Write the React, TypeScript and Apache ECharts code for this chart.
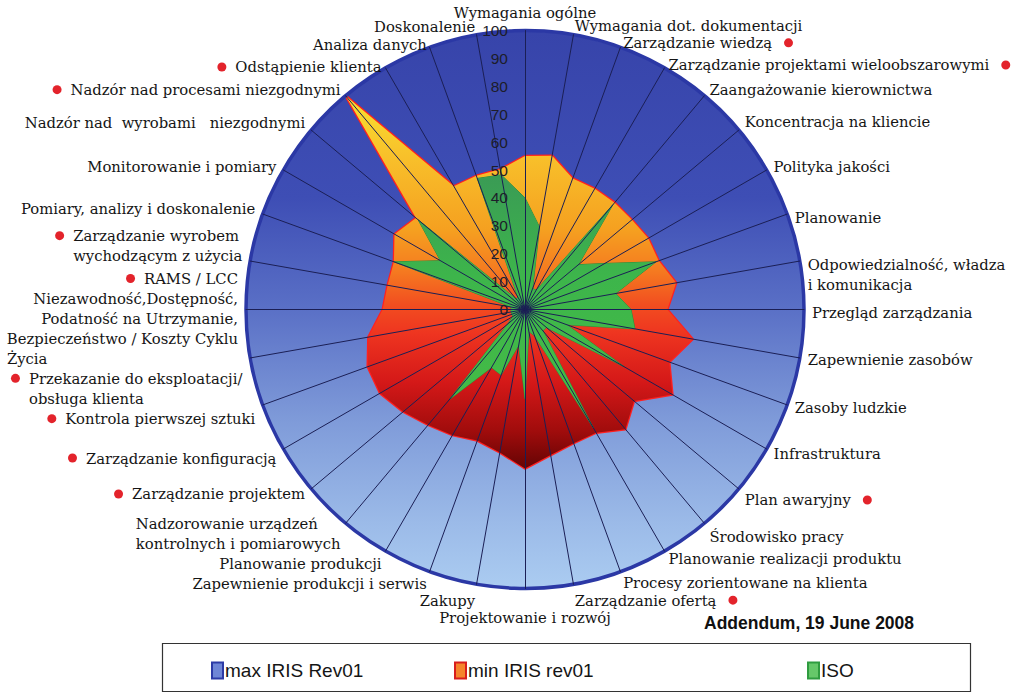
import React, { useEffect, useRef } from 'react';
import * as echarts from 'echarts';

// Categories in clockwise order, starting at the top (10° apart)
const categories: string[] = [
  'Wymagania ogólne',
  'Wymagania dot. dokumentacji',
  'Zarządzanie wiedzą',
  'Zarządzanie projektami wieloobszarowymi',
  'Zaangażowanie kierownictwa',
  'Koncentracja na kliencie',
  'Polityka jakości',
  'Planowanie',
  'Odpowiedzialność, władza\ni komunikacja',
  'Przegląd zarządzania',
  'Zapewnienie zasobów',
  'Zasoby ludzkie',
  'Infrastruktura',
  'Plan awaryjny',
  'Środowisko pracy',
  'Planowanie realizacji produktu',
  'Procesy zorientowane na klienta',
  'Zarządzanie ofertą',
  'Projektowanie i rozwój',
  'Zakupy',
  'Zapewnienie produkcji i serwis',
  'Planowanie produkcji',
  'Nadzorowanie urządzeń\nkontrolnych i pomiarowych',
  'Zarządzanie projektem',
  'Zarządzanie konfiguracją',
  'Kontrola pierwszej sztuki',
  'Przekazanie do eksploatacji/\nobsługa klienta',
  'RAMS / LCC\nNiezawodność,Dostępność,\nPodatność na Utrzymanie,\nBezpieczeństwo / Koszty Cyklu\nŻycia',
  'Zarządzanie wyrobem\nwychodzącym z użycia',
  'Pomiary, analizy i doskonalenie',
  'Monitorowanie i pomiary',
  'Nadzór nad  wyrobami   niezgodnymi',
  'Nadzór nad procesami niezgodnymi',
  'Odstąpienie klienta',
  'Analiza danych',
  'Doskonalenie',
];

// Requirements marked with a red dot (IRIS-specific)
const irisOnly: string[] = [
  'Zarządzanie wiedzą',
  'Zarządzanie projektami wieloobszarowymi',
  'Plan awaryjny',
  'Zarządzanie ofertą',
  'Zarządzanie projektem',
  'Zarządzanie konfiguracją',
  'Kontrola pierwszej sztuki',
  'Przekazanie do eksploatacji/\nobsługa klienta',
  'RAMS / LCC\nNiezawodność,Dostępność,\nPodatność na Utrzymanie,\nBezpieczeństwo / Koszty Cyklu\nŻycia',
  'Zarządzanie wyrobem\nwychodzącym z użycia',
  'Nadzór nad procesami niezgodnymi',
  'Odstąpienie klienta',
];

const seriesNames: string[] = ['max IRIS Rev01', 'min IRIS rev01', 'ISO'];

const maxIris: number[] = [
  100, 100, 100, 100, 100, 100, 100, 100, 100, 100, 100, 100,
  100, 100, 100, 100, 100, 100, 100, 100, 100, 100, 100, 100,
  100, 100, 100, 100, 100, 100, 100, 100, 100, 100, 100, 100,
];

const minIris: number[] = [
  55, 56, 50, 50, 50, 50, 51, 51, 55, 51, 61, 55,
  61, 51, 56, 51, 51, 53, 57, 52, 50, 52, 54, 57,
  60, 60, 57, 51, 50, 50, 54, 51, 100, 51, 51, 51,
];

const iso: number[] = [
  40, 30, 8, 8, 49, 25, 33, 50, 33, 38, 40, 16,
  41, 10, 10, 49, 10, 8, 32, 13, 25, 24, 42, 8,
  5, 5, 5, 5, 5, 50, 35, 50, 5, 5, 50, 49,
];

const radialTicks: number[] = [0, 10, 20, 30, 40, 50, 60, 70, 80, 90, 100];

const footnote = 'Addendum, 19 June 2008';

// Layout only: vertical nudges (px, + = down) of some category labels, by category index
const labelNudge: Record<number, number> = {
  1: -1, 2: 3, 3: 4, 5: -4, 7: 6, 8: 15, 9: 3, 13: 6, 14: 7, 16: 3, 17: 8, 18: 11,
  19: 8, 20: 4, 21: 5, 22: 4, 24: 5, 25: 11, 26: 29, 27: 9, 28: -14, 29: -3,
  31: -3, 33: 6, 34: 5,
};

// ECharts lays radar indicators out counter-clockwise; reorder so the chart reads clockwise.
const n = categories.length;
const order: number[] = categories.map((_, j) => (n - j) % n);
const reorder = (arr: number[]) => order.map((k) => arr[k]);

const lin = (stops: [number, string][]) => ({
  type: 'linear',
  x: 0,
  y: 0,
  x2: 0,
  y2: 1,
  colorStops: stops.map(([offset, color]) => ({ offset, color })),
});

const gapStyles: Record<string, any> = {};

function formatName(name: string): string {
  const k = categories.indexOf(name);
  const angle = (k * 360) / n;
  const flagged = irisOnly.indexOf(name) >= 0;
  const lines = name.split('\n');
  const left = angle > 180 && angle < 360;
  const right = angle > 0 && angle < 180;
  let out: string[];
  if (right) {
    out = lines.map((ln, i) => (i === 0 && flagged ? `${ln}{sp2|}{dot|}` : ln));
  } else if (left) {
    if (lines.length === 1) {
      out = [flagged ? `{dot|}{sp|}${lines[0]}` : lines[0]];
    } else if (lines.length > 2) {
      out = lines.map((ln, i) => {
        if (i === 0 && flagged) return `{dot|}{sp|}${ln}`;
        if (i === lines.length - 1) return `{l|${ln}}`;
        return ln;
      });
    } else {
      out = lines.map((ln, i) => {
        if (i === 0 && flagged) return `{dotL|}{spL|}{l|${ln}}`;
        if (flagged) return `{ind|${ln}}`;
        return `{l|${ln}}`;
      });
    }
  } else {
    out = lines.slice();
  }
  const dy = labelNudge[k] || 0;
  if (dy !== 0) {
    const factor = angle === 0 || angle === 180 ? 1 : 2;
    const h = Math.abs(dy) * factor;
    const key = `g${h}`;
    if (dy > 0) out.unshift(`{${key}|}`);
    else out.push(`{${key}|}`);
  }
  return out.join('\n');
}

Object.keys(labelNudge).forEach((key) => {
  const k = Number(key);
  const angle = (k * 360) / n;
  const factor = angle === 0 || angle === 180 ? 1 : 2;
  const h = Math.abs(labelNudge[k]) * factor;
  gapStyles[`g${h}`] = { height: h, lineHeight: h, width: 1 };
});

export default function App() {
  const ref = useRef<HTMLDivElement>(null);

  useEffect(() => {
    if (!ref.current) return;
    const chart = echarts.init(ref.current, undefined, { renderer: 'svg' });

    const indicators = order.map((k, j) => {
      const ind: any = { name: categories[k], min: radialTicks[0], max: radialTicks[radialTicks.length - 1] };
      if (j === 0) ind.axisLabel = { show: true };
      return ind;
    });

    const dotStyle = { width: 9, height: 9, borderRadius: 4.5, backgroundColor: '#e3232b' };
    const ringColors = radialTicks.map((_, i) => (i === radialTicks.length - 1 ? '#2b38a5' : 'rgba(0,0,0,0)'));

    const option: any = {
      animation: false,
      backgroundColor: '#ffffff',
      title: {
        text: footnote,
        left: 699,
        top: 609,
        textStyle: {
          fontFamily: 'Liberation Sans',
          fontWeight: 'bold',
          fontSize: 17.5,
          color: '#111',
        },
      },
      radar: {
        center: [525, 309.5],
        radius: 279,
        startAngle: 90,
        splitNumber: radialTicks.length - 1,
        shape: 'circle',
        z: 10,
        indicator: indicators,
        nameGap: 8,
        axisName: {
          color: '#151515',
          fontFamily: 'DejaVu Serif',
          fontSize: 14.8,
          lineHeight: 20,
          formatter: (name: string) => formatName(name),
          rich: {
            dot: { ...dotStyle },
            dotL: { ...dotStyle, align: 'left' },
            sp: { width: 9 },
            spL: { width: 9, align: 'left' },
            sp2: { width: 12 },
            l: { align: 'left' },
            ind: { align: 'left', padding: [0, 0, 0, 18] },
            ...gapStyles,
          },
        },
        axisLine: { show: true, lineStyle: { color: '#1b1f55', width: 1 } },
        axisTick: { show: false },
        splitLine: { show: true, lineStyle: { color: ringColors, width: 3.5 } },
        splitArea: { show: false },
        axisLabel: {
          show: false,
          color: '#1d1d2a',
          fontFamily: 'Liberation Sans',
          fontSize: 15.5,
          margin: 17,
          showMinLabel: true,
          showMaxLabel: true,
        },
      },
      legend: [
        {
          data: [{ name: seriesNames[0], itemStyle: { color: '#6f86d6', borderColor: '#2d3ba6', borderWidth: 2 } }],
          left: 206,
          top: 656,
        },
        {
          data: [{ name: seriesNames[1], itemStyle: { color: '#f5842c', borderColor: '#d81d1d', borderWidth: 2 } }],
          left: 449,
          top: 656,
        },
        {
          data: [{ name: seriesNames[2], itemStyle: { color: '#66c86a', borderColor: '#2f9c40', borderWidth: 2 } }],
          left: 802,
          top: 656,
        },
      ].map((l) => ({
        ...l,
        icon: 'rect',
        itemWidth: 11,
        itemHeight: 16,
        itemGap: 4,
        selectedMode: false,
        textStyle: { fontFamily: 'Liberation Sans', fontSize: 19, color: '#151515', padding: [0, 0, 0, -3] },
      })),
      graphic: [
        {
          type: 'rect',
          left: 160,
          top: 641,
          shape: { width: 808, height: 48 },
          style: { fill: 'none', stroke: '#333', lineWidth: 1.2 },
          z: 0,
        },
      ],
      series: [
        {
          type: 'radar',
          silent: true,
          symbol: 'none',
          z: 2,
          data: [
            {
              name: seriesNames[0],
              value: reorder(maxIris),
              lineStyle: { color: '#2b38a5', width: 1 },
              itemStyle: { color: '#3a48ae' },
              areaStyle: {
                opacity: 1,
                color: lin([
                  [0, '#3744aa'],
                  [0.3, '#3e4eb5'],
                  [0.5, '#5a70c6'],
                  [0.7, '#7f9bd9'],
                  [0.88, '#9bbae8'],
                  [1, '#abccf1'],
                ]),
              },
            },
            {
              name: seriesNames[1],
              value: reorder(minIris),
              lineStyle: { color: '#ff2020', width: 2.5 },
              itemStyle: { color: '#f04020' },
              areaStyle: {
                opacity: 1,
                color: lin([
                  [0, '#f8e030'],
                  [0.17, '#f8bf2a'],
                  [0.36, '#f5a020'],
                  [0.47, '#f57a20'],
                  [0.56, '#f24e20'],
                  [0.64, '#ee3420'],
                  [0.77, '#d41818'],
                  [0.9, '#a00c0c'],
                  [1, '#650404'],
                ]),
              },
            },
            {
              name: seriesNames[2],
              value: reorder(iso),
              lineStyle: { color: '#2c8a3c', width: 1 },
              itemStyle: { color: '#3db54b' },
              areaStyle: {
                opacity: 1,
                color: lin([
                  [0, '#3a9b55'],
                  [0.4, '#3db54b'],
                  [1, '#45bd45'],
                ]),
              },
            },
          ],
        },
      ],
    };

    chart.setOption(option);
    return () => chart.dispose();
  }, []);

  return (
    <div
      ref={ref}
      style={{ position: 'fixed', left: 0, top: 0, width: 1023, height: 692, background: '#fff' }}
    />
  );
}
